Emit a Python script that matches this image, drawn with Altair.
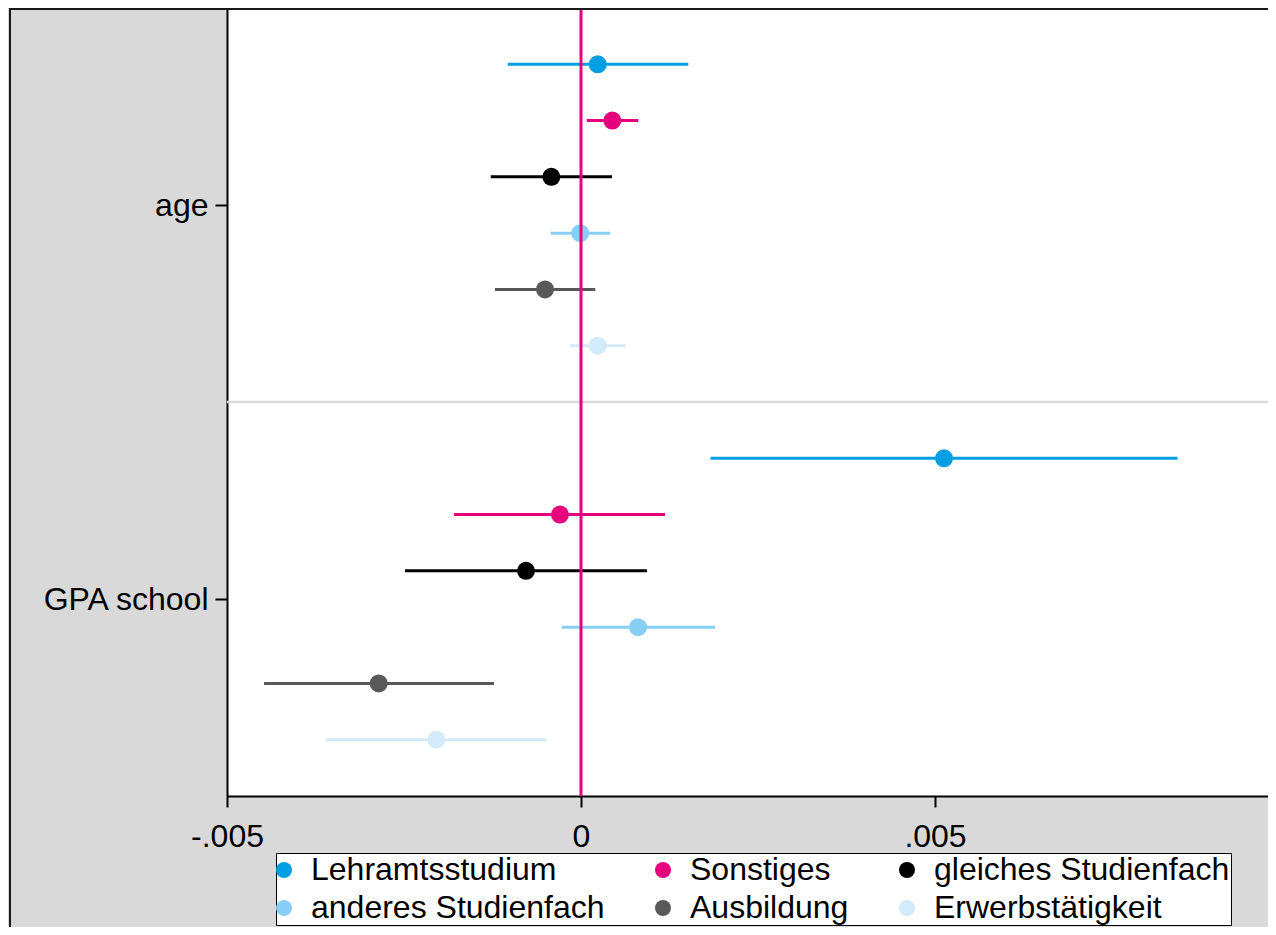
import altair as alt
import pandas as pd

# ---- data ----
groups = ["age", "GPA school"]
series = ["Lehramtsstudium", "Sonstiges", "gleiches Studienfach",
          "anderes Studienfach", "Ausbildung", "Erwerbstätigkeit"]
colors = ["#009fe3", "#e6007e", "#000000", "#87cff4", "#595959", "#d3eafa"]
# legend entries are filled column by column (2 rows x 3 columns)
legend_order = ["Lehramtsstudium", "anderes Studienfach", "Sonstiges",
                "Ausbildung", "gleiches Studienfach", "Erwerbstätigkeit"]

# coefficients and confidence bounds, per group, in series order
coef_age = [0.000236, 0.000442, -0.000419, -0.000010, -0.000508, 0.000236]
lo_age = [-0.001035, 0.000081, -0.001275, -0.000428, -0.001215, -0.000155]
hi_age = [0.001516, 0.000809, 0.000438, 0.000414, 0.000202, 0.000631]

coef_gpa = [0.005127, -0.000297, -0.000777, 0.000805, -0.002857, -0.002044]
lo_gpa = [0.001829, -0.001794, -0.002486, -0.000268, -0.004477, -0.003606]
hi_gpa = [0.008425, 0.001186, 0.000932, 0.001893, -0.001229, -0.000484]

tick_values = [-0.005, 0.0, 0.005]
tick_labels = ["-.005", "0", ".005"]
x_domain = [-0.005, 0.009703]

rows = []
for g, (cs, ls, hs) in enumerate([(coef_age, lo_age, hi_age), (coef_gpa, lo_gpa, hi_gpa)]):
    for s, name in enumerate(series):
        rows.append({"group": groups[g], "series": name, "bar_series": name,
                     "pos": g * 7 + s + 1, "coef": cs[s], "lo": ls[s], "hi": hs[s]})
df = pd.DataFrame(rows)

color_of = dict(zip(series, colors))
legend_colors = [color_of[n] for n in legend_order]

group_pos = [g * 7 + 3.5 for g in range(len(groups))]
sep_df = pd.DataFrame({"sep": [7]})
zero_df = pd.DataFrame({"zero": [0.0]})
one_df = pd.DataFrame({"a": [0]})

x_label_expr = " : ".join(
    f"abs(datum.value - ({v})) < 1e-9 ? '{t}'" for v, t in zip(tick_values, tick_labels)
) + " : ''"
y_label_expr = " : ".join(
    f"abs(datum.value - {p}) < 1e-9 ? '{n}'" for p, n in zip(group_pos, groups)
) + " : ''"

W, H = 1041, 788
PAD_L, PAD_B = 219, 131
FONT = "Liberation Sans"

xscale = alt.Scale(domain=x_domain, nice=False, zero=False)
yscale = alt.Scale(domain=[0, 14], reverse=True, nice=False, zero=False)

x_axis = alt.Axis(values=tick_values, labelExpr=x_label_expr, title=None, grid=False,
                  labelFontSize=32, labelColor="black", labelFont=FONT,
                  tickSize=11, tickWidth=2, tickColor="black",
                  domainColor="black", domainWidth=2, labelPadding=14,
                  labelFlush=False, labelOverlap=False)
y_axis = alt.Axis(values=group_pos, labelExpr=y_label_expr, title=None, grid=False,
                  labelFontSize=32, labelColor="black", labelFont=FONT,
                  tickSize=12, tickWidth=2, tickColor="black",
                  domainColor="black", domainWidth=2, labelPadding=7,
                  labelOverlap=False, labelFlush=False)

base = alt.Chart(df)

# stroke scale lists the colours in series order (the colour scale uses legend
# order), so its hidden legend is not merged with the colour legend
bars = base.mark_rule(strokeWidth=3).encode(
    x=alt.X("lo:Q", scale=xscale, axis=x_axis),
    x2="hi:Q",
    y=alt.Y("pos:Q", scale=yscale, axis=y_axis),
    stroke=alt.Stroke("bar_series:N",
                      scale=alt.Scale(domain=series, range=colors),
                      legend=None),
)

sep = alt.Chart(sep_df).mark_rule(color="#d9d9d9", strokeWidth=2.5).encode(
    y=alt.Y("sep:Q", scale=yscale)
)

points = base.mark_circle(size=324, opacity=1).encode(
    x=alt.X("coef:Q", scale=xscale),
    y=alt.Y("pos:Q", scale=yscale),
    color=alt.Color("series:N", scale=alt.Scale(domain=legend_order, range=legend_colors),
                    legend=alt.Legend(title=None, orient="none", legendX=49, legendY=845,
                                      columns=3, symbolType="circle", symbolSize=256,
                                      symbolStrokeWidth=0, symbolOpacity=1,
                                      symbolOffset=-9,
                                      labelFontSize=32, labelFont=FONT, labelColor="black",
                                      labelLimit=500, labelOffset=11, columnPadding=50,
                                      rowPadding=6, padding=1, strokeColor="black",
                                      fillColor="white")),
)

zero = alt.Chart(zero_df).mark_rule(color="#e6007e", strokeWidth=3).encode(
    x=alt.X("zero:Q", scale=xscale)
)

top_border = alt.Chart(one_df).mark_rule(color="#1a1a1a", strokeWidth=2).encode(
    x=alt.value(-217), x2=alt.value(W), y=alt.value(1)
)
left_border = alt.Chart(one_df).mark_rule(color="#1a1a1a", strokeWidth=2).encode(
    x=alt.value(-217), y=alt.value(0), y2=alt.value(H + PAD_B)
)

chart = alt.layer(bars, sep, points, zero, top_border, left_border).properties(
    width=W, height=H,
    autosize=alt.AutoSizeParams(type="none"),
    padding={"left": PAD_L, "top": 0, "right": 0, "bottom": PAD_B},
).configure(
    background="#d9d9d9",
    font=FONT,
).configure_view(
    fill="white", stroke="transparent"
)

chart.save("out.html", embed_options={"renderer": "svg", "actions": False})
